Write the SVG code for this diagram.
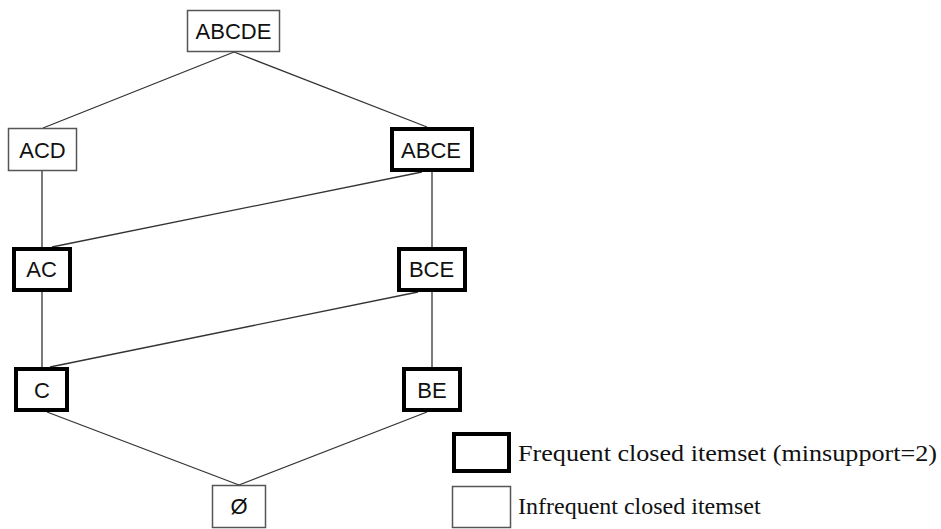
<svg xmlns="http://www.w3.org/2000/svg" width="941" height="529" viewBox="0 0 941 529">
<style>
.thin{fill:#fff;stroke:#555;stroke-width:1.5}
.thick{fill:#fff;stroke:#000;stroke-width:4}
.lbl{font-family:"Liberation Sans",Arial,sans-serif;font-size:22px;fill:#111;text-anchor:middle}
.leg{font-family:"Liberation Serif","Times New Roman",serif;font-size:24px;fill:#111}
#edges line{stroke:#333;stroke-width:1.3}
</style>
<rect width="941" height="529" fill="#fff"/>
<g id="edges">
<line x1="234" y1="52" x2="43" y2="128"/>
<line x1="234" y1="52" x2="427" y2="127"/>
<line x1="42" y1="171" x2="42" y2="247"/>
<line x1="422" y1="172" x2="52" y2="247"/>
<line x1="432" y1="172" x2="432" y2="247"/>
<line x1="42" y1="292" x2="42" y2="367"/>
<line x1="418" y1="292" x2="50" y2="367"/>
<line x1="432" y1="292" x2="432" y2="367"/>
<line x1="47" y1="412" x2="239" y2="485"/>
<line x1="427" y1="412" x2="239" y2="485"/>
</g>
<g id="n-abcde"><rect class="thin" x="187.5" y="10.5" width="92" height="41"/><text class="lbl" x="233.5" y="39">ABCDE</text></g>
<g id="n-acd"><rect class="thin" x="8.5" y="128.5" width="68" height="42"/><text class="lbl" x="42.5" y="157.5">ACD</text></g>
<g id="n-abce"><rect class="thick" x="392" y="129" width="80" height="41"/><text class="lbl" x="431" y="157.5">ABCE</text></g>
<g id="n-ac"><rect class="thick" x="14" y="249" width="56" height="41"/><text class="lbl" x="41.5" y="276.5">AC</text></g>
<g id="n-bce"><rect class="thick" x="399" y="249" width="66" height="41"/><text class="lbl" x="431.5" y="276.5">BCE</text></g>
<g id="n-c"><rect class="thick" x="16" y="369" width="51" height="41"/><text class="lbl" x="42" y="397.5">C</text></g>
<g id="n-be"><rect class="thick" x="404" y="369" width="56" height="41"/><text class="lbl" x="432" y="397.5">BE</text></g>
<g id="n-empty"><rect class="thin" x="212.5" y="485.5" width="53" height="42"/><text class="lbl" x="239" y="513.5">Ø</text></g>
<g id="legend">
<rect class="thick" x="454" y="434" width="55" height="37"/>
<text class="leg" x="518" y="461" textLength="419" lengthAdjust="spacingAndGlyphs">Frequent closed itemset (minsupport=2)</text>
<rect class="thin" x="452.5" y="486.5" width="58" height="41"/>
<text class="leg" x="518" y="514">Infrequent closed itemset</text>
</g>
</svg>
